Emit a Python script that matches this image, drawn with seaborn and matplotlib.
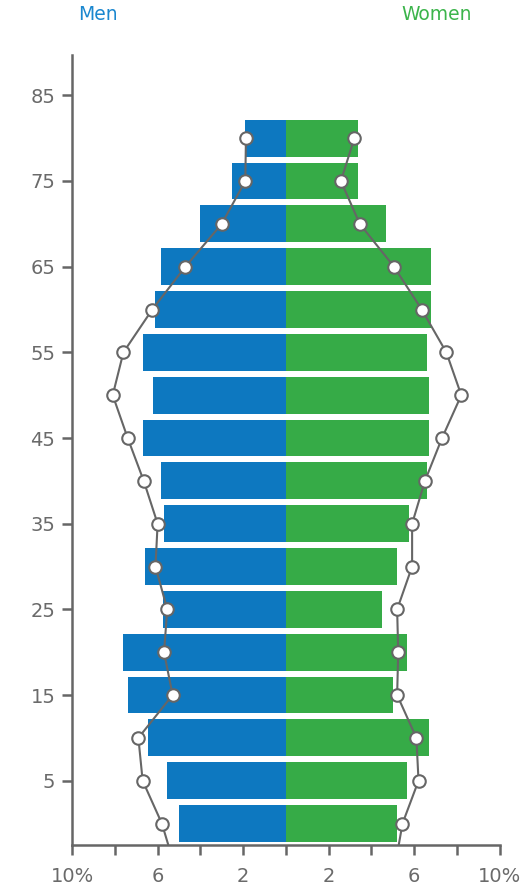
import matplotlib
matplotlib.use("Agg")
import matplotlib.pyplot as plt
import numpy as np
import pandas as pd
import seaborn as sns

# age groups (bar centres) and percentage shares
ages = [0, 5, 10, 15, 20, 25, 30, 35, 40, 45, 50, 55, 60, 65, 70, 75, 80]
men = [5.0, 5.55, 6.45, 7.4, 7.6, 5.75, 6.6, 5.7, 5.85, 6.7, 6.2, 6.7, 6.1, 5.85, 4.0, 2.5, 1.9]
women = [5.2, 5.65, 6.7, 5.0, 5.65, 4.5, 5.2, 5.75, 6.6, 6.7, 6.7, 6.6, 6.8, 6.8, 4.7, 3.35, 3.35]

# comparison profile (circles); first point lies below the axis and is clipped
line_ages = [-5, 0, 5, 10, 15, 20, 25, 30, 35, 40, 45, 50, 55, 60, 65, 70, 75, 80]
men_line = [5.2, 5.8, 6.7, 6.9, 5.3, 5.7, 5.55, 6.1, 6.0, 6.65, 7.4, 8.1, 7.6, 6.25, 4.7, 3.0, 1.9, 1.87]
women_line = [5.1, 5.45, 6.2, 6.1, 5.2, 5.25, 5.2, 5.9, 5.9, 6.5, 7.3, 8.2, 7.5, 6.35, 5.05, 3.45, 2.57, 3.2]

x_ticks = [-10, -8, -6, -4, -2, 0, 2, 4, 6, 8, 10]
x_labels = ["10%", "", "6", "", "2", "", "2", "", "6", "", "10%"]
y_ticks = [5, 15, 25, 35, 45, 55, 65, 75, 85]

blue = "#0d78c0"
green = "#36ab47"
grey = "#666666"

sns.set_style("white")
plt.rcParams['font.family'] = ['DejaVu Sans']

fig = plt.figure(figsize=(5.3, 8.92), dpi=100)
ax = fig.add_axes([0.136, 0.0527, 0.807, 0.8856])

bars = pd.DataFrame({"age": ages, "men": [-v for v in men], "women": women})
sns.barplot(data=bars, x="men", y="age", orient="y", native_scale=True,
            width=0.86, color=blue, saturation=1, linewidth=0, ax=ax)
sns.barplot(data=bars, x="women", y="age", orient="y", native_scale=True,
            width=0.86, color=green, saturation=1, linewidth=0, ax=ax)

lines = pd.DataFrame({"age": line_ages, "men": [-v for v in men_line], "women": women_line})
for col in ["men", "women"]:
    sns.lineplot(data=lines, x=col, y="age", sort=False, orient="y", color=grey,
                 linewidth=1.5, marker="o", markersize=9, markerfacecolor="white",
                 markeredgecolor=grey, markeredgewidth=1.5, ax=ax)

ax.set_xlim(-10, 10)
ax.set_ylim(-2.5, 89.7)
ax.set_xticks(x_ticks)
ax.set_xticklabels(x_labels)
ax.set_yticks(y_ticks)
ax.set_xlabel("")
ax.set_ylabel("")

for side in ["top", "right"]:
    ax.spines[side].set_visible(False)
for side in ["left", "bottom"]:
    ax.spines[side].set_color(grey)
    ax.spines[side].set_linewidth(1.8)
ax.tick_params(axis="both", colors=grey, labelsize=14, length=7, width=1.8,
               direction="out", bottom=True, left=True, pad=5)
ax.tick_params(axis="x", pad=9)
for lab in ax.get_xticklabels() + ax.get_yticklabels():
    lab.set_color("#6a6a6a")

fig.text(98 / 530, 1 - 15 / 892, "Men", color="#1a87cf", fontsize=13.5,
         ha="center", va="center")
fig.text(437 / 530, 1 - 15 / 892, "Women", color="#3cb44b", fontsize=13.5,
         ha="center", va="center")

fig.savefig("out.png", dpi=100)
